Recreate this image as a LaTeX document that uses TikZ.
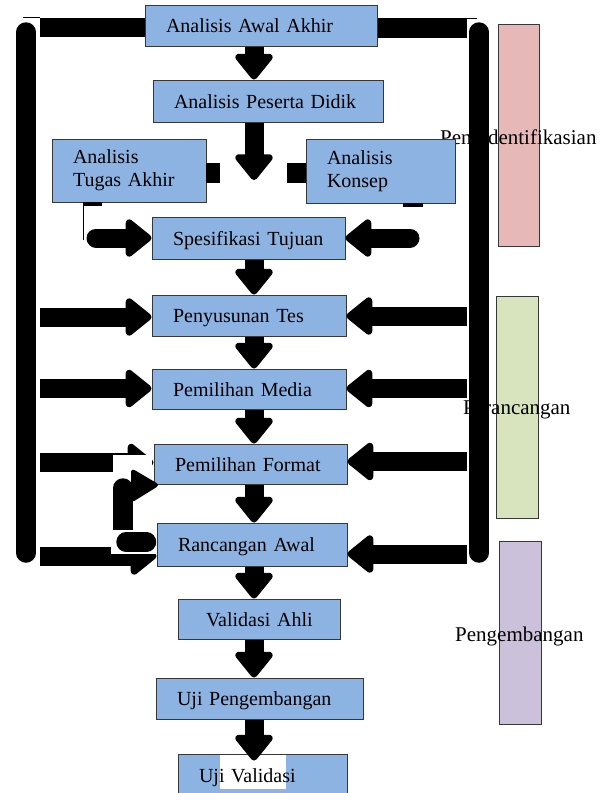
\documentclass[tikz,border=0pt]{standalone}
\usepackage{fontspec}
\setmainfont{Liberation Serif}
\usepackage{tikz}
\usetikzlibrary{arrows.meta}
\definecolor{stepblue}{RGB}{141,179,226}
\definecolor{phasepink}{RGB}{230,185,184}
\definecolor{phasegreen}{RGB}{215,228,189}
\definecolor{phasepurple}{RGB}{204,193,218}
\definecolor{edgegray}{RGB}{55,55,55}

\begin{document}
\begin{tikzpicture}[x=1pt,y=-1pt,
    stage/.style={draw=edgegray,fill=stepblue,line width=1pt,inner xsep=21pt,inner ysep=0pt,
      align=left,font=\fontsize{20}{23}\selectfont},
    oneline/.style={stage,text height=14pt,text depth=0pt},
    phase/.style={inner sep=0pt,anchor=base west,font=\fontsize{21}{24}\selectfont},
    phasebox/.style={draw=edgegray,line width=1pt},
    bar/.style={line width=19.5pt},
    fat/.style={line width=19pt,-{Triangle[length=28pt,width=43pt,round,line width=8pt]}}]
    \useasboundingbox (0,0) rectangle (605,793);
    \draw[phasebox,fill=phasepink] (498,24) rectangle (539,246);
    \draw[phasebox,fill=phasegreen] (496,296) rectangle (538,518);
    \draw[phasebox,fill=phasepurple] (499,541) rectangle (541,724);
    \node[phase] (ident) at (440,144) {Pengidentifikasian};
    \node[phase] (rancang) at (463,414) {Perancangan};
    \node[phase] (kembang) at (455,641) {Pengembangan};
    \node[oneline,text width=190pt,minimum height=41pt] (awal) at (261,25.5) {Analisis~Awal~Akhir};
    \node[oneline,text width=188pt,minimum height=42pt] (peserta) at (268,101) {Analisis~Peserta~Didik};
    \node[stage,text width=112pt,minimum height=63pt] (tugas) at (129,170.5) {Analisis\\Tugas Akhir};
    \node[stage,text width=107pt,minimum height=64pt] (konsep) at (380.5,171) {Analisis\\Konsep};
    \node[oneline,text width=151pt,minimum height=42pt] (spesifikasi) at (248.5,238) {Spesifikasi~Tujuan};
    \node[oneline,text width=152pt,minimum height=41pt] (penyusunan) at (249,315.5) {Penyusunan~Tes};
    \node[oneline,text width=152pt,minimum height=40pt] (media) at (249,389) {Pemilihan~Media};
    \node[oneline,text width=151pt,minimum height=40pt] (format) at (250.5,464) {Pemilihan~Format};
    \node[oneline,text width=148pt,minimum height=43pt] (rancangan) at (252,544.5) {Rancangan~Awal};
    \node[oneline,inner xsep=28pt,text width=106pt,minimum height=40pt] (validasi) at (259,619) {Validasi~Ahli};
    \node[oneline,text width=165pt,minimum height=41pt] (ujipeng) at (259.5,698.5) {Uji~Pengembangan};
    \node[oneline,text width=127pt,minimum height=42pt,
      path picture={\fill[white] ([xshift=42pt]path picture bounding box.north west) rectangle ++(66pt,-35pt);}]
      (ujival) at (262.5,775) {Uji~Validasi};
    % frame
    \draw[bar,line cap=round] (26,32) -- (26,553);
    \draw[bar,line cap=round] (479,32) -- (479,553);
    \coordinate (tl) at (40,27.5);
    \coordinate (tr) at (467,28);
    \draw[bar] (tl) -- (awal.west |- tl);
    \draw[bar] (awal.east |- tr) -- (tr);
    \draw[line width=0.8pt] (23,17.5) -- (40,17.5);
    \draw[line width=0.8pt] (467,18.5) -- (477,18.5);
    % main flow
    \coordinate (sp) at (254,0);
    \coordinate (mid) at (254,180);
    \draw[fat] (awal.south -| sp) -- (peserta.north -| sp);
    \draw[fat] (peserta.south -| sp) -- (mid);
    \draw[fat] (spesifikasi.south -| sp) -- (penyusunan.north -| sp);
    \draw[fat] (penyusunan.south -| sp) -- (media.north -| sp);
    \draw[fat] (media.south -| sp) -- (format.north -| sp);
    \draw[fat] (format.south -| sp) -- (rancangan.north -| sp);
    \draw[fat] (rancangan.south -| sp) -- (validasi.north -| sp);
    \draw[fat] (validasi.south -| sp) -- (ujipeng.north -| sp);
    \draw[fat] (ujipeng.south -| sp) -- ([yshift=-7pt]ujival.north -| sp);
    \fill (206,163) rectangle (220,183);
    \fill (287,163) rectangle (306,183);
    \fill (83,202) rectangle (102,205.5);
    \fill (403,203) rectangle (423,206.5);
    \draw[line width=0.8pt] (83,202) -- (83,240);
    \coordinate (sl) at (96,238);
    \coordinate (sr) at (410,238);
    \draw[fat,line cap=round] (sl) -- (spesifikasi.west);
    \draw[fat,line cap=round] (sr) -- (spesifikasi.east);
    % side arrows
    \coordinate (l1) at (40,317);
    \coordinate (r1) at (467,316);
    \coordinate (l2) at (40,388.5);
    \coordinate (r2) at (467,388.5);
    \coordinate (l3) at (40,462.5);
    \coordinate (r3) at (467,461.5);
    \coordinate (l4) at (40,556);
    \coordinate (r4) at (467,554);
    \draw[fat] (l1) -- (penyusunan.west |- l1);
    \draw[fat] (r1) -- (penyusunan.east |- r1);
    \draw[fat] (l2) -- (media.west |- l2);
    \draw[fat] (r2) -- (media.east |- r2);
    \draw[fat] (l3) -- (format.west |- l3);
    \draw[fat] (r3) -- (format.east |- r3);
    \draw[fat] (l4) -- (rancangan.west |- l4);
    \draw[fat] (r4) -- (rancangan.east |- r4);
    % loop back
    \fill[white] (113,455) rectangle (152,529);
    \draw[bar,line cap=round] (123,488) -- (123,529);
    \fill[rounded corners=4pt] (131,468) -- (160,485) -- (131,503) -- cycle;
    \fill[white] (111,530) rectangle (157,554);
    \coordinate (rb) at (126,542);
    \draw[bar,line cap=round] (rb) -- ([xshift=-10pt]rancangan.west |- rb);
\end{tikzpicture}
\end{document}
